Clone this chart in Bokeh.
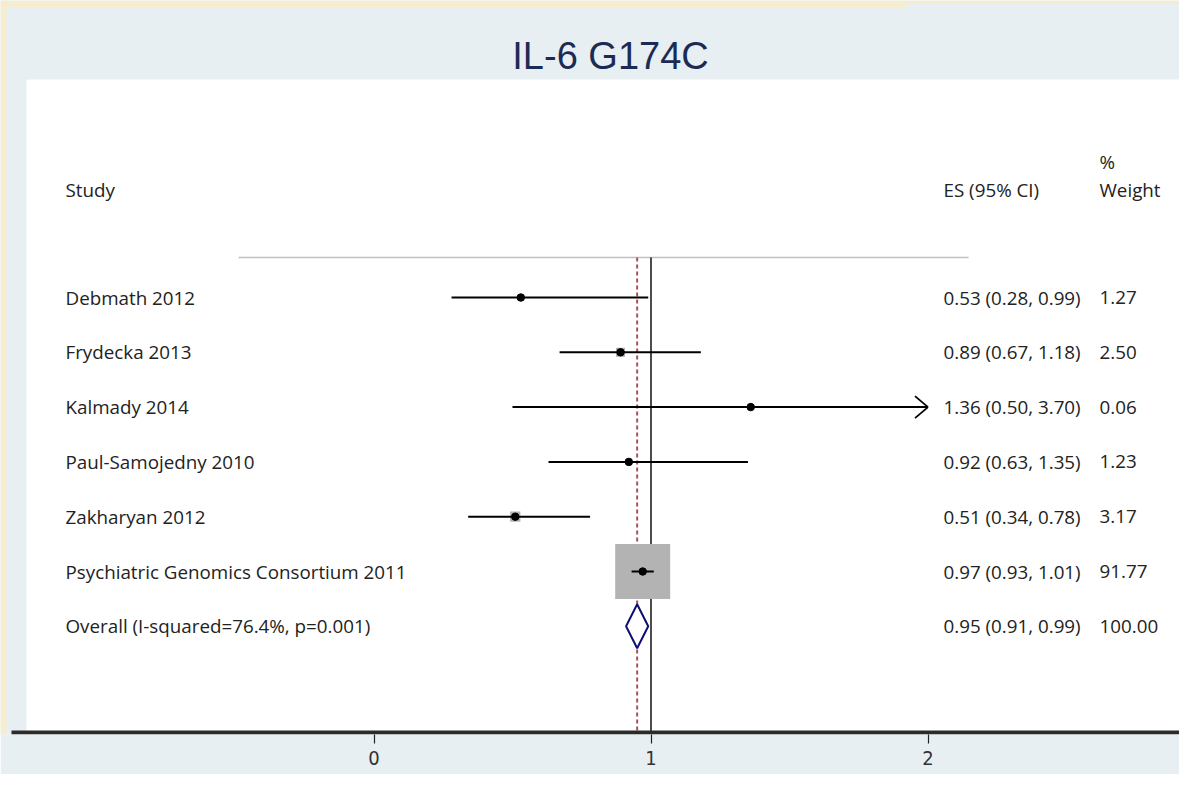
import numpy as np
from bokeh.plotting import figure
from bokeh.models import Range1d, FixedTicker, ColumnDataSource
from bokeh.core.properties import value
from bokeh.embed import file_html
from bokeh.resources import INLINE

# ---------------- data ----------------
studies = ["Debmath 2012", "Frydecka 2013", "Kalmady 2014", "Paul-Samojedny 2010",
           "Zakharyan 2012", "Psychiatric Genomics Consortium 2011"]
es = [0.53, 0.89, 1.36, 0.92, 0.51, 0.97]
lo = [0.28, 0.67, 0.50, 0.63, 0.34, 0.93]
hi = [0.99, 1.18, 3.70, 1.35, 0.78, 1.01]
weight = [1.27, 2.50, 0.06, 1.23, 3.17, 91.77]
overall_label = "Overall  (I-squared=76.4%, p=0.001)"
overall_es, overall_lo, overall_hi, overall_w = 0.95, 0.91, 0.99, 100.00
x_ticks = [0, 1, 2]
title_text = "IL-6 G174C"

# ---------------- layout constants ----------------
FONT = "Open Sans"
BLUE = "#e8eff2"
YELLOW = "#f6edcf"
TXT = "#222222"
W, H = 1179, 774
px_per_x = 277.0
px_per_row = 54.8
X0PX, ROW1PX = 373.5, 297.0


def xd(px):
    return (px - X0PX) / px_per_x


def yd(px):
    return 1 + (px - ROW1PX) / px_per_row


x_lo, x_hi = xd(0), xd(W)
y_top, y_bot = yd(0), yd(734)
clip_max = 2.0

p = figure(width=W, height=H, output_backend="svg", toolbar_location=None,
           x_range=Range1d(x_lo, x_hi), y_range=Range1d(y_bot, y_top),
           min_border_left=0, min_border_right=0, min_border_top=0, min_border_bottom=40)
p.background_fill_color = BLUE
p.border_fill_color = BLUE
p.outline_line_color = None
p.grid.visible = False
p.yaxis.visible = False

# page edge strips and white plot region
p.quad(left=[xd(0), xd(907), xd(0)], right=[xd(907), xd(W), xd(6)],
       top=[yd(0), yd(0), yd(0)], bottom=[yd(7), yd(3), y_bot],
       fill_color=YELLOW, line_color=None)
p.quad(left=xd(26), right=xd(1181), top=yd(79), bottom=yd(731),
       fill_color="white", line_color=None)

# title
p.text(x=[xd(610)], y=[yd(55)], text=[title_text],
       text_align="center", text_baseline="middle", text_font=value("Liberation Sans"),
       text_font_size="38px", text_color="#1c2b55")

n = len(studies)
rows = list(range(1, n + 1))
ov_row = n + 1

X_LAB, X_ES, X_W = xd(65), xd(943), xd(1099)
FS = "18.8px"

# headers
hdr, pct = yd(189), yd(161)
p.text(x=[X_LAB], y=[hdr], text=["Study"], text_baseline="middle", text_font=value(FONT),
       text_font_size=FS, text_color=TXT)
p.text(x=[X_ES], y=[hdr], text=["ES (95% CI)"], text_baseline="middle", text_font=value(FONT),
       text_font_size=FS, text_color=TXT)
p.text(x=[X_W, X_W], y=[pct, hdr], text=["%", "Weight"], text_baseline="middle",
       text_font=value(FONT), text_font_size=FS, text_color=TXT)

# separator line
line_y = yd(257)
p.segment(x0=[xd(238)], x1=[xd(968)], y0=[line_y], y1=[line_y],
          line_color="#c0c0c0", line_width=1.5)

# reference lines
p.segment(x0=[1], x1=[1], y0=[line_y], y1=[yd(731)], line_color="#111111", line_width=1.5)
p.segment(x0=[overall_es], x1=[overall_es], y0=[line_y], y1=[yd(731)], line_color="#a85060",
          line_width=2, line_dash="4 3")

# weight boxes (area proportional to weight)
side = [55 * np.sqrt(w / max(weight)) for w in weight]
p.rect(x=es, y=rows, width=side, height=side, width_units="screen", height_units="screen",
       fill_color="#b3b3b3", line_color=None)

# CI lines (clipped at axis limit)
hi_c = [min(h, clip_max) for h in hi]
p.segment(x0=lo, x1=hi_c, y0=rows, y1=rows, line_color="black", line_width=2)
ax0, ax1, ay0, ay1 = [], [], [], []
for r, h, hc in zip(rows, hi, hi_c):
    if h > clip_max:
        for s in (-1, 1):
            ax0.append(hc); ay0.append(r)
            ax1.append(hc - 13 / px_per_x); ay1.append(r + s * 11 / px_per_row)
p.segment(x0=ax0, x1=ax1, y0=ay0, y1=ay1, line_color="black", line_width=1.8)

# point estimates
p.scatter(x=es, y=rows, size=7.5, marker="circle", fill_color="black", line_color="black")

# overall diamond
dh = 22 / px_per_row
p.patch(x=[overall_lo, overall_es, overall_hi, overall_es],
        y=[ov_row, ov_row - dh, ov_row, ov_row + dh],
        fill_color="white", line_color="#0f0f73", line_width=2)

# text columns
labels = studies + [overall_label]
es_txt = [f"{e:.2f} ({l:.2f}, {h:.2f})" for e, l, h in zip(es, lo, hi)] + \
         [f"{overall_es:.2f} ({overall_lo:.2f}, {overall_hi:.2f})"]
w_txt = [f"{w:.2f}" for w in weight] + [f"{overall_w:.2f}"]
all_rows = rows + [ov_row]
src = ColumnDataSource(dict(y=all_rows, lab=labels, es=es_txt, w=w_txt,
                            x1=[X_LAB] * len(all_rows), x2=[X_ES] * len(all_rows),
                            x3=[X_W] * len(all_rows)))
for col, xc in (("lab", "x1"), ("es", "x2"), ("w", "x3")):
    p.text(x=xc, y="y", text=col, source=src, text_baseline="middle", text_font=value(FONT),
           text_font_size=FS, text_color=TXT)

# thick axis baseline
p.segment(x0=[xd(11)], x1=[xd(1183)], y0=[yd(732)], y1=[yd(732)],
          line_color="#2b2b2b", line_width=4)

# x axis (ticks and labels)
ax = p.xaxis[0]
ax.ticker = FixedTicker(ticks=x_ticks)
ax.axis_line_color = None
ax.major_tick_in = 0
ax.major_tick_out = 9
ax.major_tick_line_color = "#222222"
ax.major_tick_line_width = 1.2
ax.minor_tick_line_color = None
ax.major_label_text_font = "'Liberation Sans Narrow', 'DejaVu Sans Condensed', sans-serif"
ax.major_label_text_font_size = "20px"
ax.major_label_text_color = "#333333"
ax.major_label_standoff = 7

open("out.html", "w").write(file_html(p, INLINE))
